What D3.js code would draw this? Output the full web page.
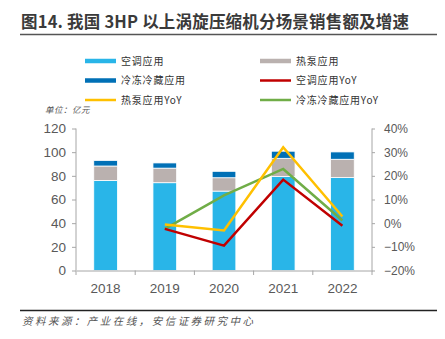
<!DOCTYPE html>
<html>
<head>
<meta charset="utf-8">
<script src="https://cdn.jsdelivr.net/npm/d3@7"></script>
<style>
  body { margin: 0; background: #fff; }
  svg { display: block; }
</style>
</head>
<body>
<div id="chart"></div>
<script>
// 数据：各年份销售额（亿元）及同比增速（%）
const years = ["2018", "2019", "2020", "2021", "2022"];
const kongtiao = [76, 74.2, 67.1, 79.4, 78.5];     // 空调应用
const rebeng = [12.3, 12.3, 11.3, 15.4, 15.5];     // 热泵应用
const lengdong = [4.7, 4.4, 5.4, 6.0, 6.2];        // 冷冻冷藏应用
const kongtiaoYoY = [null, -2.4, -9.5, 18.4, -1.1];
const rebengYoY = [null, -0.6, -3.1, 32.1, 2.8];
const lengdongYoY = [null, -2.4, 11.7, 22.9, 1.1];
const leftTicks = [0, 20, 40, 60, 80, 100, 120];
const rightTicks = [-20, -10, 0, 10, 20, 30, 40];

const W = 445, H = 339;
const colors = {
  kt: "#29B5E8", rb: "#BAB1AF", ld: "#0070B6",
  ktY: "#C00000", rbY: "#FFC000", ldY: "#70AD47"
};

const svg = d3.select("#chart").append("svg")
  .attr("width", W).attr("height", H)
  .style("font-family", "'Liberation Sans', Arial, sans-serif");

// 标题
svg.append("text")
  .attr("x", 21).attr("y", 28)
  .attr("font-size", 16.5).attr("font-weight", "bold")
  .attr("textLength", 388).attr("lengthAdjust", "spacing")
  .attr("fill", "#3a3a3a")
  .style("font-family", "'Noto Sans CJK SC', sans-serif")
  .text("图14. 我国 3HP 以上涡旋压缩机分场景销售额及增速");
svg.append("line")
  .attr("x1", 20).attr("x2", 437).attr("y1", 34.5).attr("y2", 34.5)
  .attr("stroke", "#555").attr("stroke-width", 1.5);

// 图例
const legend = [
  { name: "空调应用", color: colors.kt, type: "bar" },
  { name: "热泵应用", color: colors.rb, type: "bar" },
  { name: "冷冻冷藏应用", color: colors.ld, type: "bar" },
  { name: "空调应用YoY", color: colors.ktY, type: "line" },
  { name: "热泵应用YoY", color: colors.rbY, type: "line" },
  { name: "冷冻冷藏应用YoY", color: colors.ldY, type: "line" }
];
const lg = svg.append("g").selectAll("g").data(legend).join("g")
  .attr("transform", (d, i) => "translate(" + (85 + (i % 2) * 175) + "," + (61 + Math.floor(i / 2) * 19.5) + ")");
lg.append("line")
  .attr("x1", 0).attr("x2", 31).attr("y1", 0).attr("y2", 0)
  .attr("stroke", d => d.color)
  .attr("stroke-width", d => d.type === "bar" ? 4.5 : 2.5);
lg.append("text")
  .attr("x", 36).attr("y", 0).attr("dy", "0.36em")
  .attr("font-size", 10).attr("letter-spacing", 0.8)
  .attr("fill", "#333")
  .style("font-family", "'Noto Sans CJK SC', sans-serif")
  .text(d => d.name);

// 单位
svg.append("text")
  .attr("x", 45).attr("y", 110).attr("dy", "0.36em")
  .attr("font-size", 8.5).attr("fill", "#555")
  .attr("font-style", "italic").attr("letter-spacing", 0.5)
  .style("font-family", "'Noto Sans CJK SC', sans-serif")
  .text("单位：亿元");

// 比例尺
const x = d3.scaleBand().domain(years).range([76, 372]).paddingInner(0.6).paddingOuter(0.3);
const y = d3.scaleLinear().domain([0, 120]).range([270.5, 128.5]);
const y2 = d3.scaleLinear().domain([-20, 40]).range([270.5, 128.5]);

// 堆叠柱
const rows = years.map((yr, i) => ({ year: yr, kt: kongtiao[i], rb: rebeng[i], ld: lengdong[i] }));
const stack = d3.stack().keys(["kt", "rb", "ld"])(rows);
svg.append("g").selectAll("g").data(stack).join("g")
  .attr("fill", d => colors[d.key])
  .selectAll("rect").data(d => d).join("rect")
  .attr("x", d => x(d.data.year))
  .attr("width", x.bandwidth())
  .attr("y", d => y(d[1]))
  .attr("height", d => y(d[0]) - y(d[1]))
  .attr("stroke", "#fff").attr("stroke-width", 0.8);

// 坐标轴
const axisColor = "#A6A6A6";
const gl = svg.append("g").attr("transform", "translate(76,0)")
  .call(d3.axisLeft(y).tickValues(leftTicks).tickSize(4).tickPadding(6));
const gr = svg.append("g").attr("transform", "translate(372,0)")
  .call(d3.axisRight(y2).tickValues(rightTicks).tickSize(3).tickPadding(9)
    .tickFormat(d => (d < 0 ? "−" + Math.abs(d) : d) + "%"));
const gb = svg.append("g").attr("transform", "translate(0,270.5)")
  .call(d3.axisBottom(x).tickSize(0).tickPadding(10));
[gl, gr, gb].forEach(g => {
  g.select(".domain").attr("stroke", axisColor);
  g.selectAll(".tick line").attr("stroke", axisColor);
  g.selectAll("text").attr("fill", "#595959")
    .style("font-family", "'Liberation Sans', Arial, sans-serif");
});
gl.selectAll("text").attr("font-size", 13.5);
gr.selectAll("text").attr("font-size", 12);
gb.selectAll("text").attr("font-size", 13.5).attr("dy", "0.9em");
gl.select(".domain").attr("d", "M0," + y(0) + "V" + y(120));
gr.select(".domain").attr("d", "M0," + y(0) + "V" + y(120));

// 横轴分隔刻度
const bounds = d3.range(years.length + 1).map(i => x.range()[0] + i * (x.range()[1] - x.range()[0]) / years.length);
svg.append("g").selectAll("line").data(bounds).join("line")
  .attr("x1", d => d).attr("x2", d => d)
  .attr("y1", 270.5).attr("y2", 275)
  .attr("stroke", axisColor);

// 增速折线
const line = d3.line()
  .defined(d => d.v !== null)
  .x(d => x(d.year) + x.bandwidth() / 2)
  .y(d => y2(d.v));
const series = [
  { v: lengdongYoY, c: colors.ldY },
  { v: kongtiaoYoY, c: colors.ktY },
  { v: rebengYoY, c: colors.rbY }
];
svg.append("g").selectAll("path").data(series).join("path")
  .attr("d", s => line(years.map((yr, i) => ({ year: yr, v: s.v[i] }))))
  .attr("fill", "none")
  .attr("stroke", s => s.c)
  .attr("stroke-width", 2.5);

// 资料来源
svg.append("line")
  .attr("x1", 20).attr("x2", 437).attr("y1", 310.5).attr("y2", 310.5)
  .attr("stroke", "#222").attr("stroke-width", 1.5);
svg.append("text")
  .attr("x", 22).attr("y", 321).attr("dy", "0.36em")
  .attr("font-size", 10.5).attr("font-style", "italic")
  .attr("textLength", 231).attr("lengthAdjust", "spacing")
  .attr("fill", "#555")
  .style("font-family", "'Noto Sans CJK SC', sans-serif")
  .text("资料来源：产业在线，安信证券研究中心");
</script>
</body>
</html>
